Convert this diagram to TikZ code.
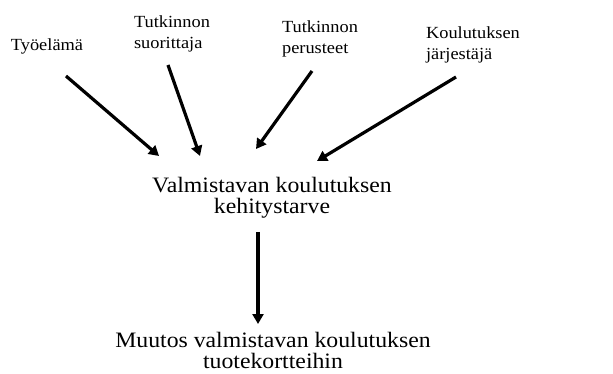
\documentclass[tikz,border=0pt]{standalone}
\usepackage{fontspec}
\setmainfont[FakeStretch=1.08]{Liberation Serif}
\usetikzlibrary{arrows.meta}
\begin{document}
\begin{tikzpicture}[x=1pt,y=-1pt,
  small/.style={font=\fontsize{17}{21}\selectfont, align=left, inner sep=0pt},
  big/.style={font=\fontsize{22}{21}\selectfont, align=center, inner sep=0pt},
  arr/.style={line width=3.2pt, -{Triangle[length=10pt,width=11pt]}}]
\useasboundingbox (0,0) rectangle (613,374);
\node[small] (tyo) at (47,46) {Työelämä};
\node[small] (suor) at (172,33.5) {Tutkinnon\\suorittaja};
\node[small] (per) at (320,38.5) {Tutkinnon\\perusteet};
\node[small] (jarj) at (473,44.5) {Koulutuksen\\järjestäjä};
\node[big] (kehi) at (272,197.5) {Valmistavan koulutuksen\\kehitystarve};
\node[big] (muut) at (273,350) {Muutos valmistavan koulutuksen\\tuotekortteihin};
\coordinate (s1) at (66,76);   \coordinate (e1) at (159,156);
\coordinate (s2) at (168,65);  \coordinate (e2) at (200,156);
\coordinate (s3) at (312,71);  \coordinate (e3) at (256,149);
\coordinate (s4) at (456,77);  \coordinate (e4) at (317,161);
\coordinate (s5) at (258,232); \coordinate (e5) at (258,324);
\draw[arr] (s1) -- (e1);
\draw[arr] (s2) -- (e2);
\draw[arr] (s3) -- (e3);
\draw[arr] (s4) -- (e4);
\draw[arr] (s5) -- (e5);
\end{tikzpicture}
\end{document}
